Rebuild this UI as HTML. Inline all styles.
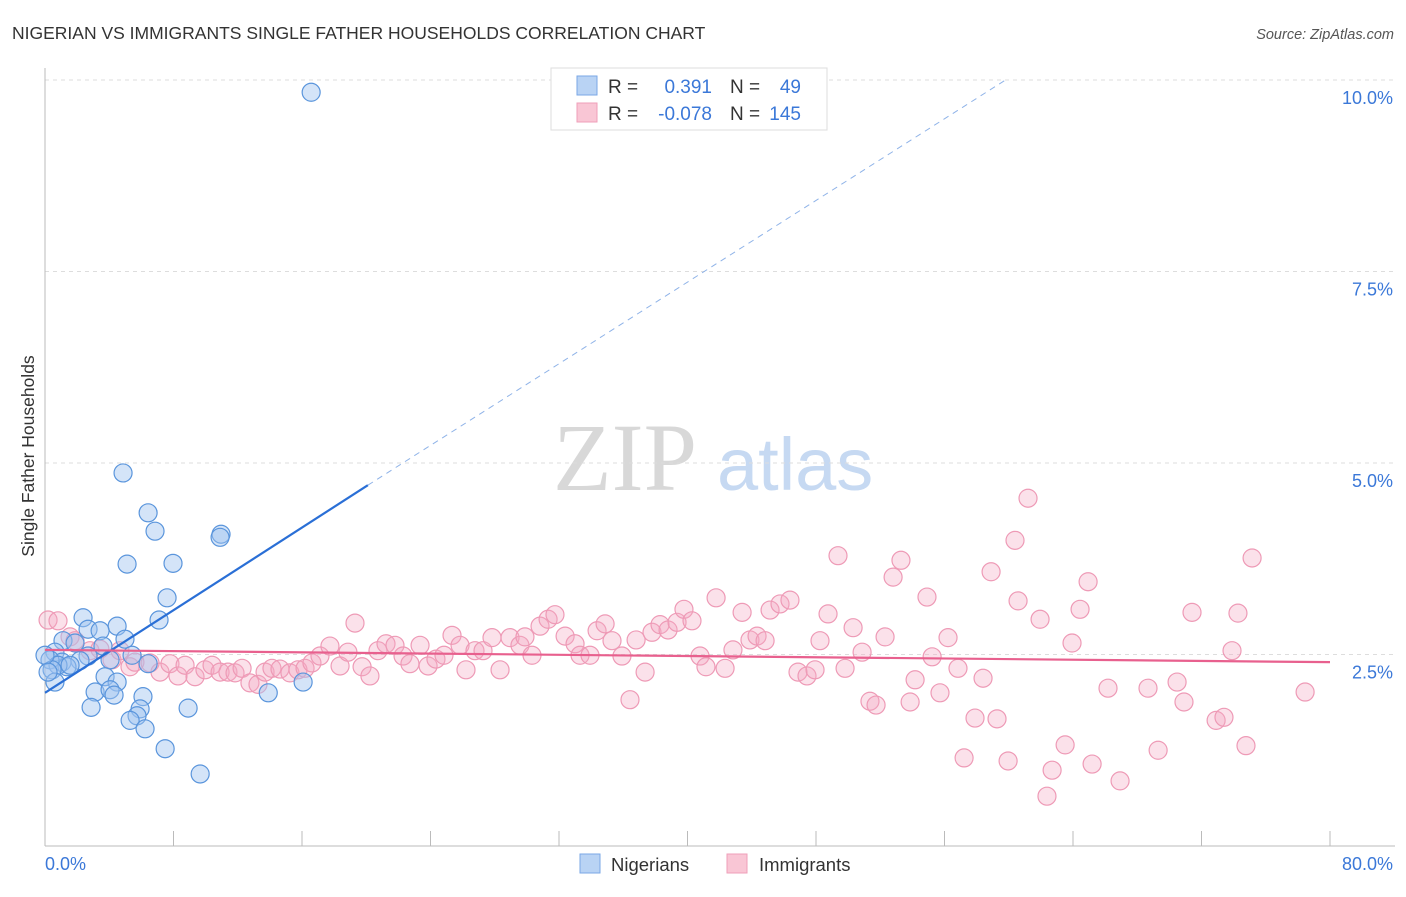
<!DOCTYPE html>
<html><head><meta charset="utf-8"><style>
body{margin:0;background:#fff;font-family:"Liberation Sans",sans-serif}
svg text{font-family:"Liberation Sans",sans-serif}
</style></head><body>
<svg id="chart" width="1406" height="892" viewBox="0 0 1406 892" xmlns="http://www.w3.org/2000/svg">
<text x="12" y="39" font-size="17.5" fill="#333">NIGERIAN VS IMMIGRANTS SINGLE FATHER HOUSEHOLDS CORRELATION CHART</text>
<text x="1394" y="39" font-size="14.5" font-style="italic" fill="#555" text-anchor="end">Source: ZipAtlas.com</text>
<g>
<text x="553" y="490" font-size="96" font-family="Liberation Serif, serif" fill="#d8d8d8" style="font-family:'Liberation Serif',serif">ZIP</text>
<text x="717" y="490" font-size="74" fill="#c6d9f2">atlas</text>
</g>
<g id="grid"></g>
<g id="axes"></g>
<g id="pink"></g>
<g id="blue"></g>
<g id="trend"></g>
<text x="34" y="456" font-size="17.5" fill="#333" text-anchor="middle" transform="rotate(-90 34 456)">Single Father Households</text>
<g>
<rect x="551" y="68" width="276" height="62" fill="#fff" stroke="#ddd"/>
<rect x="577" y="76" width="20" height="19" fill="#b9d3f4" stroke="#7aa7e6"/>
<rect x="577" y="103" width="20" height="19" fill="#f9c6d5" stroke="#ef9fb9"/>
<text x="608" y="93" font-size="19" fill="#333">R =</text>
<text x="712" y="93" font-size="19" fill="#3b78d8" text-anchor="end">0.391</text>
<text x="730" y="93" font-size="19" fill="#333">N =</text>
<text x="801" y="93" font-size="19" fill="#3b78d8" text-anchor="end">49</text>
<text x="608" y="120" font-size="19" fill="#333">R =</text>
<text x="712" y="120" font-size="19" fill="#3b78d8" text-anchor="end">-0.078</text>
<text x="730" y="120" font-size="19" fill="#333">N =</text>
<text x="801" y="120" font-size="19" fill="#3b78d8" text-anchor="end">145</text>
</g>
<g>
<rect x="580" y="854" width="20" height="19" fill="#b9d3f4" stroke="#7aa7e6"/>
<text x="611" y="871" font-size="18.5" fill="#333">Nigerians</text>
<rect x="727" y="854" width="20" height="19" fill="#f9c6d5" stroke="#ef9fb9"/>
<text x="759" y="871" font-size="18.5" fill="#333">Immigrants</text>
</g>
</svg>
<script>
const yTicks=[2.5,5.0,7.5,10.0];
const yTickLabels=["2.5%","5.0%","7.5%","10.0%"];
const xTickVals=[0,8,16,24,32,40,48,56,64,72,80];
const xEndLabels=["0.0%","80.0%"];
const blueX=[16.57,4.86,6.42,6.85,10.96,10.9,5.11,7.97,7.6,7.1,2.37,4.49,2.68,3.43,4.98,1.12,1.87,3.61,2.68,5.42,0.62,6.42,1.06,0.31,2.18,4.05,1.37,0.81,0.44,0.62,3.74,4.49,16.07,3.12,4.05,6.1,4.3,13.9,2.87,8.91,5.92,5.73,5.3,6.23,7.48,9.66,0,0.19,1.56];
const blueY=[9.84,4.87,4.35,4.11,4.07,4.03,3.68,3.69,3.24,2.95,2.98,2.87,2.83,2.81,2.70,2.68,2.65,2.61,2.48,2.49,2.53,2.38,2.40,2.43,2.42,2.43,2.34,2.36,2.30,2.14,2.21,2.14,2.14,2.01,2.04,1.95,1.97,2.0,1.81,1.80,1.79,1.70,1.64,1.53,1.27,0.94,2.49,2.27,2.36];
const pinkX=[0.19,0.81,1.56,1.87,2.80,3.42,4.17,4.67,5.29,5.60,6.54,7.16,7.78,8.28,8.72,9.34,9.96,10.40,10.90,11.39,11.83,12.27,12.76,13.26,13.70,14.13,14.63,15.25,15.75,16.19,16.62,17.12,17.74,18.37,18.86,19.30,19.74,20.23,20.73,21.23,21.79,22.29,22.72,23.35,23.85,24.34,24.84,25.34,25.84,26.21,26.77,27.27,27.83,28.33,28.95,29.57,29.88,30.32,30.82,31.32,31.75,32.38,33.00,33.31,33.93,34.37,34.87,35.30,35.92,36.42,36.80,37.36,37.79,38.29,38.79,39.35,39.78,40.28,40.78,41.15,41.78,42.34,42.83,43.40,43.89,44.33,44.83,45.14,45.76,46.38,46.88,47.44,47.94,48.25,48.75,49.37,49.81,50.31,50.87,51.36,51.74,52.30,52.80,53.29,53.86,54.17,54.91,55.23,55.72,56.22,56.84,57.22,57.90,58.40,58.90,59.27,59.96,60.39,60.58,61.20,61.95,62.38,62.70,63.51,63.94,64.44,64.94,65.19,66.18,66.93,68.67,69.30,70.48,70.91,71.41,72.91,73.40,73.90,74.27,74.77,75.15,78.45];
const pinkY=[2.95,2.94,2.73,2.68,2.55,2.57,2.43,2.55,2.34,2.40,2.39,2.27,2.38,2.22,2.36,2.21,2.30,2.36,2.27,2.27,2.26,2.32,2.13,2.11,2.27,2.32,2.31,2.26,2.30,2.32,2.39,2.48,2.61,2.35,2.53,2.91,2.34,2.22,2.55,2.64,2.62,2.48,2.38,2.62,2.35,2.44,2.49,2.75,2.62,2.30,2.55,2.55,2.72,2.30,2.72,2.62,2.73,2.49,2.87,2.96,3.02,2.74,2.64,2.49,2.49,2.81,2.90,2.68,2.48,1.91,2.69,2.27,2.79,2.89,2.82,2.92,3.09,2.94,2.48,2.34,3.24,2.32,2.56,3.05,2.69,2.74,2.68,3.08,3.16,3.21,2.27,2.22,2.30,2.68,3.03,3.79,2.32,2.85,2.53,1.89,1.84,2.73,3.51,3.73,1.88,2.17,3.25,2.47,2.00,2.72,2.32,1.15,1.67,2.19,3.58,1.66,1.11,3.99,3.20,4.54,2.96,0.65,0.99,1.32,2.65,3.09,3.45,1.07,2.06,0.85,2.06,1.25,2.14,1.88,3.05,1.64,1.68,2.55,3.04,1.31,3.76,2.01];
const blueTrend=[0,2.0,20.1,4.71,59.8,10.0];
const pinkTrend=[0,2.56,80,2.40];

const NS="http://www.w3.org/2000/svg";
const X0=45,X1=1330,Y0=846,PXPER=191.5/2.5;
function sx(v){return X0+(v/80)*(X1-X0);}
function sy(v){return Y0-v*PXPER;}
function mk(tag,attrs,parent){const e=document.createElementNS(NS,tag);for(const k in attrs)e.setAttribute(k,attrs[k]);parent.appendChild(e);return e;}
const grid=document.getElementById('grid'),axes=document.getElementById('axes');
yTicks.forEach((t,i)=>{
  const l=mk('line',{x1:X0,x2:1395,y1:sy(t),y2:sy(t),stroke:'#ddd','stroke-dasharray':'4,4'},grid);
  
  
  const tx=mk('text',{x:1393,y:sy(t)+24,'font-size':18,fill:'#3b78d8','text-anchor':'end'},axes);
  tx.textContent=yTickLabels[i];
  
  
});
const ax=mk('line',{x1:X0,x2:1395,y1:Y0,y2:Y0,stroke:'#bbb'},axes);


const ay=mk('line',{x1:X0,x2:X0,y1:68,y2:Y0,stroke:'#bbb'},axes);


xTickVals.forEach(v=>{
  const t=mk('line',{x1:sx(v),x2:sx(v),y1:Y0-15,y2:Y0,stroke:'#bbb'},axes);
  
  
});
const xl0=mk('text',{x:45,y:870,'font-size':18,fill:'#3b78d8'},axes);xl0.textContent=xEndLabels[0];


const xl1=mk('text',{x:1393,y:870,'font-size':18,fill:'#3b78d8','text-anchor':'end'},axes);xl1.textContent=xEndLabels[1];


const pg=document.getElementById('pink');
pinkX.forEach((x,i)=>{
  const c=mk('circle',{cx:sx(x),cy:sy(pinkY[i]),r:9,fill:'rgba(244,170,194,0.35)',stroke:'#ee9ab6','stroke-width':1.2},pg);
  
  
});
const bg=document.getElementById('blue');
blueX.forEach((x,i)=>{
  const c=mk('circle',{cx:sx(x),cy:sy(blueY[i]),r:9,fill:'rgba(160,196,240,0.45)',stroke:'#5a95dc','stroke-width':1.2},bg);
  
  
});
const tg=document.getElementById('trend');
const bl=mk('line',{x1:sx(blueTrend[0]),y1:sy(blueTrend[1]),x2:sx(blueTrend[2]),y2:sy(blueTrend[3]),stroke:'#2a6fd6','stroke-width':2.2},tg);


const bd=mk('line',{x1:sx(blueTrend[2]),y1:sy(blueTrend[3]),x2:sx(blueTrend[4]),y2:sy(blueTrend[5]),stroke:'#8fb3e8','stroke-width':1,'stroke-dasharray':'6,5'},tg);


const pl=mk('line',{x1:sx(pinkTrend[0]),y1:sy(pinkTrend[1]),x2:sx(pinkTrend[2]),y2:sy(pinkTrend[3]),stroke:'#e8608e','stroke-width':2.2},tg);


</script>
</body></html>
